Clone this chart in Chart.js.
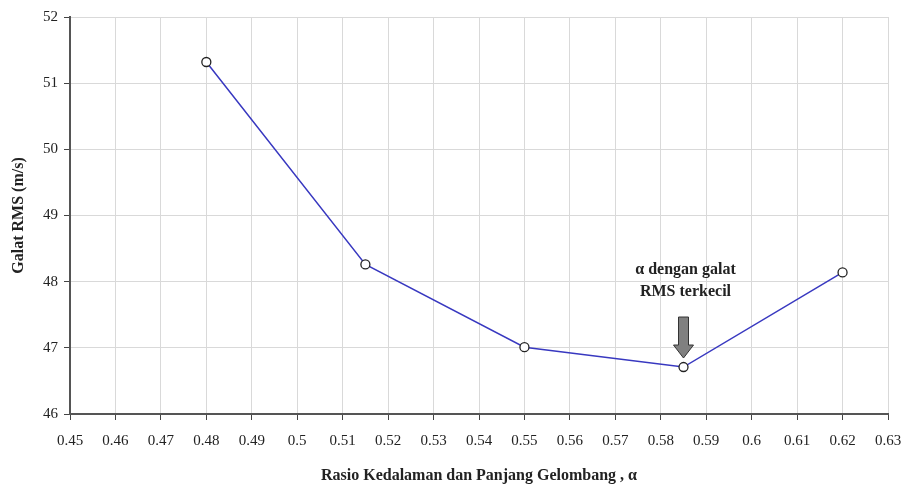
<!DOCTYPE html>
<html>
<head>
<meta charset="utf-8">
<script src="https://cdn.jsdelivr.net/npm/chart.js@4.4.0/dist/chart.umd.min.js"></script>
<style>
  body { margin: 0; background: #fff; }
  #wrap { width: 908px; height: 489px; }
</style>
</head>
<body>
<div id="wrap"><canvas id="rms"></canvas></div>
<script>
// data
var ratios = [0.48, 0.515, 0.55, 0.585, 0.62];
var rmsError = [51.32, 48.26, 47.01, 46.71, 48.14];
var xTicks = [0.45, 0.46, 0.47, 0.48, 0.49, 0.5, 0.51, 0.52, 0.53, 0.54, 0.55, 0.56, 0.57, 0.58, 0.59, 0.6, 0.61, 0.62, 0.63];
var yTicks = [46, 47, 48, 49, 50, 51, 52];
var noteLines = ['\u03b1 dengan galat', 'RMS terkecil'];
var noteIndex = 3; // point the arrow marks

var serif = '"Liberation Serif", "Times New Roman", serif';

// arrow + note above the smallest error point
var notePlugin = {
  id: 'note',
  afterDatasetsDraw: function(chart) {
    var ctx = chart.ctx;
    var pt = chart.getDatasetMeta(0).data[noteIndex];
    var x = pt.x, y = pt.y;
    ctx.save();
    ctx.fillStyle = '#222';
    ctx.font = 'bold 16px ' + serif;
    ctx.textAlign = 'center';
    ctx.textBaseline = 'middle';
    ctx.fillText(noteLines[0], x + 2, y - 97);
    ctx.fillText(noteLines[1], x + 2, y - 75);

    var top = y - 50, neck = y - 22, tip = y - 9;
    ctx.beginPath();
    ctx.moveTo(x - 5, top);
    ctx.lineTo(x + 5, top);
    ctx.lineTo(x + 5, neck);
    ctx.lineTo(x + 10, neck);
    ctx.lineTo(x, tip);
    ctx.lineTo(x - 10, neck);
    ctx.lineTo(x - 5, neck);
    ctx.closePath();
    ctx.fillStyle = '#808080';
    ctx.fill();
    ctx.strokeStyle = '#333';
    ctx.lineWidth = 1;
    ctx.stroke();
    ctx.restore();
  }
};

var points = ratios.map(function(r, i) { return { x: r, y: rmsError[i] }; });

new Chart(document.getElementById('rms'), {
  type: 'line',
  data: {
    datasets: [{
      data: points,
      borderColor: '#3838c0',
      borderWidth: 1.5,
      pointRadius: 4.5,
      pointBackgroundColor: '#fff',
      pointBorderColor: '#222',
      pointBorderWidth: 1.3,
      tension: 0
    }]
  },
  options: {
    responsive: true,
    maintainAspectRatio: false,
    animation: false,
    layout: { padding: { top: 17, right: 0, left: 5, bottom: 0 } },
    plugins: { legend: { display: false }, tooltip: { enabled: false } },
    scales: {
      x: {
        type: 'linear',
        min: 0.45,
        max: 0.63,
        afterBuildTicks: function(axis) {
          axis.ticks = xTicks.map(function(v) { return { value: v }; });
        },
        afterFit: function(axis) {
          axis.height = 75;
          axis.paddingLeft = 0;
          axis.paddingRight = 20;
        },
        ticks: {
          color: '#222',
          font: { family: serif, size: 15 },
          padding: 12,
          maxRotation: 0,
          autoSkip: false,
          callback: function(v) { return String(Number(v.toFixed(2))); }
        },
        grid: { color: '#d9d9d9', lineWidth: 1, tickColor: '#444', tickLength: 6 },
        border: { color: '#555', width: 2 },
        title: {
          display: true,
          text: 'Rasio Kedalaman dan Panjang Gelombang , \u03b1',
          color: '#222',
          font: { family: serif, size: 16, weight: 'bold' },
          padding: { top: 8 }
        }
      },
      y: {
        min: 46,
        max: 52,
        afterBuildTicks: function(axis) {
          axis.ticks = yTicks.map(function(v) { return { value: v }; });
        },
        afterFit: function(axis) { axis.width = 65; },
        ticks: {
          color: '#222',
          font: { family: serif, size: 15 },
          padding: 6
        },
        grid: { color: '#d9d9d9', lineWidth: 1, tickColor: '#444', tickLength: 6 },
        border: { color: '#555', width: 2 },
        title: {
          display: true,
          text: 'Galat RMS (m/s)',
          color: '#222',
          font: { family: serif, size: 16, weight: 'bold' },
          padding: { bottom: 4 }
        }
      }
    }
  },
  plugins: [notePlugin]
});
</script>
</body>
</html>
